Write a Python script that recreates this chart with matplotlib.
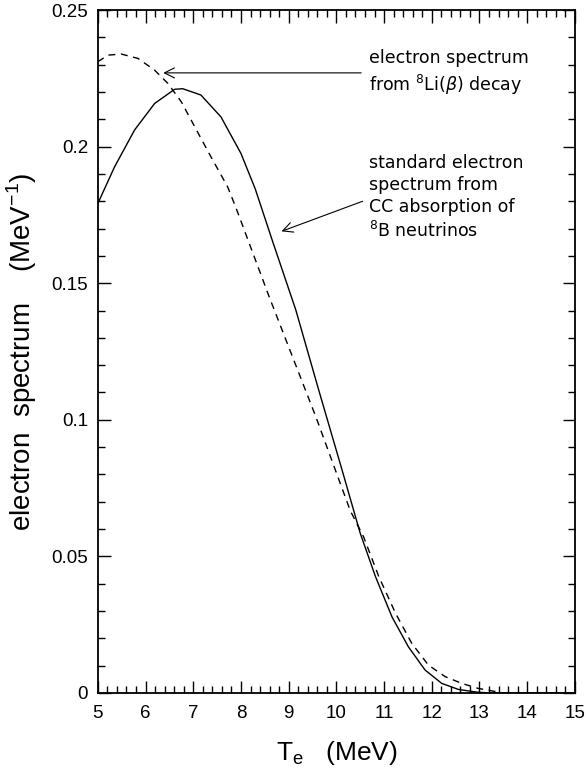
import matplotlib.pyplot as plt
from matplotlib.ticker import MultipleLocator, FormatStrFormatter

# Electron spectra (MeV^-1) vs kinetic energy T_e (MeV)
te_b8 = [5.0, 5.35, 5.77, 6.19, 6.61, 6.78, 7.16, 7.58, 8.0, 8.3, 8.66, 9.15,
         9.63, 10.12, 10.5, 10.82, 11.165, 11.51, 11.86, 12.21, 12.56, 12.91,
         13.2, 15.0]
spec_b8 = [0.1792, 0.1926, 0.2061, 0.2158, 0.2210, 0.2212, 0.2189, 0.2109,
           0.1975, 0.1845, 0.1655, 0.1402, 0.1109, 0.0816, 0.0585, 0.0426,
           0.0279, 0.0169, 0.0084, 0.0035, 0.0013, 0.0004, 0.0, 0.0]

te_li8 = [5.0, 5.215, 5.49, 5.84, 6.19, 6.47, 6.75, 7.03, 7.37, 7.72, 7.9,
          8.59, 9.57, 10.29, 10.57, 10.89, 11.24, 11.58, 11.93, 12.28, 12.63,
          12.97, 13.25, 13.5, 15.0]
spec_li8 = [0.2311, 0.2335, 0.2339, 0.2323, 0.2280, 0.2231, 0.2164, 0.2073,
            0.1963, 0.1853, 0.1774, 0.1451, 0.1011, 0.0668, 0.0572, 0.0426,
            0.0292, 0.0182, 0.0102, 0.0060, 0.0035, 0.0017, 0.0008, 0.0, 0.0]

x_ticks = [5, 6, 7, 8, 9, 10, 11, 12, 13, 14, 15]
y_ticks = [0, 0.05, 0.1, 0.15, 0.2, 0.25]

plt.rcParams['font.family'] = ['Liberation Sans', 'DejaVu Sans']

fig = plt.figure(figsize=(5.86, 7.73), dpi=100)
ax = fig.add_axes([0.167, 0.1035, 0.814, 0.8835])

ax.plot(te_b8, spec_b8, color='black', linewidth=1.0)
ax.plot(te_li8, spec_li8, color='black', linewidth=1.0, linestyle=(0, (5, 4)))

ax.set_xlim(5, 15)
ax.set_ylim(0, 0.25)
ax.set_xticks(x_ticks)
ax.set_yticks(y_ticks)
ax.yaxis.set_major_formatter(FormatStrFormatter('%g'))
ax.xaxis.set_minor_locator(MultipleLocator(0.2))
ax.yaxis.set_minor_locator(MultipleLocator(0.01))
ax.tick_params(which='both', direction='in', top=True, right=True,
               labelsize=13.5, width=1.0)
ax.tick_params(axis='x', pad=9)
ax.tick_params(axis='y', pad=7)
ax.tick_params(which='major', length=9)
ax.tick_params(which='minor', length=5)
for s in ax.spines.values():
    s.set_linewidth(1.3)

ax.set_xlabel('T$_\\mathregular{e}$   (MeV)', fontsize=19, labelpad=12)
ax.set_ylabel('electron  spectrum    (MeV$^\\mathregular{-1}$)', fontsize=20,
              labelpad=9)

# labelled arrows
arrow = dict(arrowstyle='->', color='black', linewidth=0.8,
             mutation_scale=18, shrinkA=0, shrinkB=0)
note_font = dict(family=['DejaVu Sans'], fontsize=12.5, ha='left', va='center',
                 linespacing=1.3)

ax.annotate('', xy=(6.37, 0.2270), xytext=(10.52, 0.2270), arrowprops=arrow)
ax.text(10.68, 0.2270, 'electron spectrum\nfrom $^\\mathregular{8}$Li($\\beta$) decay',
        **note_font)

ax.annotate('', xy=(8.85, 0.169), xytext=(10.55, 0.180), arrowprops=arrow)
ax.text(10.68, 0.1815,
        'standard electron\nspectrum from\nCC absorption of\n$^\\mathregular{8}$B neutrinos',
        **note_font)

fig.savefig('out.png', dpi=100)
